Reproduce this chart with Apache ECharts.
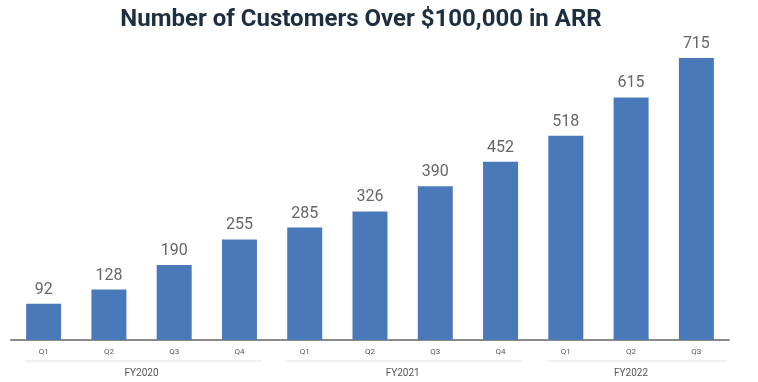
<!DOCTYPE html>
<html><head><meta charset="utf-8">
<script src="https://cdn.jsdelivr.net/npm/echarts@6/dist/echarts.min.js"></script>
<style>html,body{margin:0;padding:0;background:#fff}#c{width:758px;height:382px}</style>
</head><body><div id="c"></div>
<script>
const quarters = ['Q1','Q2','Q3','Q4','Q1','Q2','Q3','Q4','Q1','Q2','Q3'];
const customers = [92,128,190,255,285,326,390,452,518,615,715];
const fiscalYears = ['FY2020','FY2021','FY2022'];
const fyStart = [0,4,8];
const fyEnd = [3,7,10];
const titleText = 'Number of Customers Over $100,000 in ARR';

const chart = echarts.init(document.getElementById('c'));
chart.setOption({
  animation:false,
  title:{text:titleText,left:356,textAlign:'center',top:3,
    textStyle:{fontFamily:'Roboto',fontWeight:'bold',fontSize:24,color:'#1c2e40'}},
  grid:{left:11,right:29,top:58,bottom:42},
  xAxis:{type:'category',data:quarters,
    axisLine:{lineStyle:{color:'#8a8a8a',width:2}},
    axisTick:{show:false},
    axisLabel:{fontFamily:'Roboto',fontSize:8,color:'#555',margin:8}},
  yAxis:{type:'value',min:0,max:715,show:false,splitLine:{show:false}},
  series:[{type:'bar',data:customers,barWidth:35,
    itemStyle:{color:'#4a79b9'},
    label:{show:true,position:'top',distance:6,fontFamily:'Roboto',fontSize:16,color:'#666'}}]
});

function drawGroups(){
  const g=[];
  const step = chart.convertToPixel({xAxisIndex:0},1)-chart.convertToPixel({xAxisIndex:0},0);
  const y = chart.convertToPixel({yAxisIndex:0},0);
  fiscalYears.forEach((fy,i)=>{
    const xs = chart.convertToPixel({xAxisIndex:0},fyStart[i]);
    const xe = chart.convertToPixel({xAxisIndex:0},fyEnd[i]);
    const x1 = xs - step*0.29;
    const x2 = i===fiscalYears.length-1 ? xe + step*0.46 : xe + step*0.34;
    g.push({type:'line',shape:{x1:x1,y1:y+21,x2:x2,y2:y+21},style:{stroke:'#e3e3e3',lineWidth:1}});
    g.push({type:'text',x:(xs+xe)/2,y:y+33,style:{text:fy,fill:'#555',font:'10px Roboto',align:'center',verticalAlign:'middle'}});
  });
  chart.setOption({graphic:g});
}
drawGroups();
</script></body></html>
